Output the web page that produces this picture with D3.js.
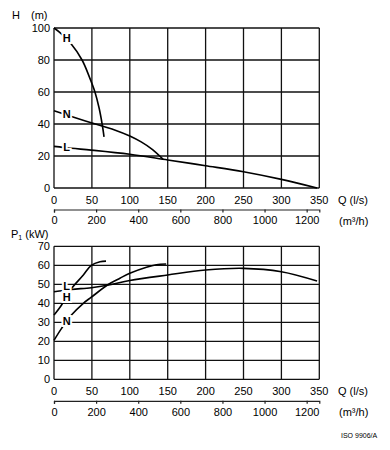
<!DOCTYPE html>
<html>
<head>
<meta charset="utf-8">
<script src="https://cdn.jsdelivr.net/npm/d3@7"></script>
<style>
  body { margin: 0; background: #fff; }
  svg { display: block; font-family: "Liberation Sans", Arial, sans-serif; }
</style>
</head>
<body>
<svg id="chart" width="390" height="450"></svg>
<script>
// flow in l/s, head in m, power in kW
const qTicks = [0, 50, 100, 150, 200, 250, 300, 350]
const m3hTicks = [0, 200, 400, 600, 800, 1000, 1200]
const headTicks = [0, 20, 40, 60, 80, 100]
const powerTicks = [0, 10, 20, 30, 40, 50, 60, 70]

const headH = [[0, 100], [9, 96.7], [22, 90.4], [37, 80], [47, 69], [54, 60], [59.5, 50], [63.5, 40], [66, 32]]
const headN = [[0, 48.3], [10, 46.7], [22, 44.8], [49, 40.8], [80, 36.3], [100, 32.5], [115, 28.8], [130, 24], [144, 17.9]]
const headL = [[0, 26], [23, 24.8], [49, 23.7], [100, 21.1], [150, 17.5], [180, 15.4], [200, 13.9], [250, 10.2], [300, 5.4], [347, 0]]

const powerH = [[0, 33.8], [10, 39.1], [21.6, 47], [38.7, 54.9], [49.2, 60], [60.7, 61.9], [68.6, 62.2]]
const powerN = [[0, 20.5], [10, 26.8], [23, 33.8], [38.7, 40], [49.2, 43.2], [72, 50], [87, 53.2], [100, 55.8], [122, 59], [135, 60.3], [148, 60.7]]
const powerL = [[0, 46.1], [23, 47.3], [49.2, 48.2], [72, 49.6], [100, 52], [150, 54.9], [200, 57.5], [250, 58.4], [300, 56.6], [347, 51.7]]

// curve name labels: [name, q, value]
const headLabels = [['H', 16.7, 94], ['N', 16.7, 46.3], ['L', 16.7, 25.9]]
const powerLabels = [['L', 16.7, 49.1], ['H', 16.7, 43.5], ['N', 16.7, 30.8]]

const svg = d3.select('#chart')
const left = 54, right = 319.3

const x = d3.scaleLinear().domain([0, 350]).range([left, right])
const xm = d3.scaleLinear().domain([0, 1260]).range([left, right])

function panel(y, yTicks, curves, labels) {
  const g = svg.append('g')
  const [y0, y1] = y.range()
  // grid
  g.selectAll('.hgrid').data(yTicks).enter().append('line')
    .attr('x1', left).attr('x2', right)
    .attr('y1', d => y(d)).attr('y2', d => y(d))
    .attr('stroke', '#111').attr('stroke-width', 1.3)
  g.selectAll('.vgrid').data(qTicks).enter().append('line')
    .attr('x1', d => x(d)).attr('x2', d => x(d))
    .attr('y1', y0).attr('y2', y1)
    .attr('stroke', '#111').attr('stroke-width', 1.3)
  // y labels
  g.selectAll('.ylab').data(yTicks).enter().append('text')
    .attr('x', left - 4).attr('y', d => y(d) + 4)
    .attr('text-anchor', 'end').attr('font-size', 11)
    .text(d => d)
  // q labels
  g.selectAll('.qlab').data(qTicks).enter().append('text')
    .attr('x', d => x(d)).attr('y', y0 + 16)
    .attr('text-anchor', 'middle').attr('font-size', 11)
    .text(d => d)
  g.append('text').attr('x', 338).attr('y', y0 + 16).attr('font-size', 11).text('Q (l/s)')
  // m3/h axis
  const ax = g.append('g').attr('transform', `translate(0,${y0 + 21.5})`)
    .call(d3.axisBottom(xm).tickValues(m3hTicks).tickFormat(d3.format('d'))
      .tickSize(3).tickSizeOuter(3).tickPadding(4))
  ax.selectAll('text').attr('font-size', 11).attr('font-family', null).attr('fill', '#000')
  ax.selectAll('path,line').attr('stroke', '#222').attr('stroke-width', 1.2)
  g.append('text').attr('x', 339).attr('y', y0 + 37).attr('font-size', 11).text('(m³/h)')
  // curves
  const line = d3.line().x(d => x(d[0])).y(d => y(d[1])).curve(d3.curveCatmullRom.alpha(0.5))
  curves.forEach(c => {
    g.append('path').attr('d', line(c)).attr('fill', 'none')
      .attr('stroke', '#000').attr('stroke-width', 1.6)
  })
  g.selectAll('.clab').data(labels).enter().append('text')
    .attr('x', d => x(d[1])).attr('y', d => y(d[2]) + 4)
    .attr('text-anchor', 'middle').attr('font-size', 11).attr('font-weight', 'bold')
    .attr('stroke', '#fff').attr('stroke-width', 4).attr('paint-order', 'stroke')
    .attr('fill', '#000')
    .text(d => d[0])
}

const yHead = d3.scaleLinear().domain([0, 100]).range([188, 28])
const yPower = d3.scaleLinear().domain([0, 70]).range([379.3, 246.3])

panel(yHead, headTicks, [headH, headN, headL], headLabels)
panel(yPower, powerTicks, [powerH, powerN, powerL], powerLabels)

// axis titles
svg.append('text').attr('x', 12).attr('y', 19).attr('font-size', 11).text('H')
svg.append('text').attr('x', 31).attr('y', 19).attr('font-size', 11).text('(m)')
const p1 = svg.append('text').attr('x', 11).attr('y', 238).attr('font-size', 11)
p1.append('tspan').text('P')
p1.append('tspan').attr('font-size', 7).attr('dy', 2).text('1')
p1.append('tspan').attr('dy', -2).text(' (kW)')

svg.append('text').attr('x', 341).attr('y', 438).attr('font-size', 7).text('ISO 9906/A')
</script>
</body>
</html>
